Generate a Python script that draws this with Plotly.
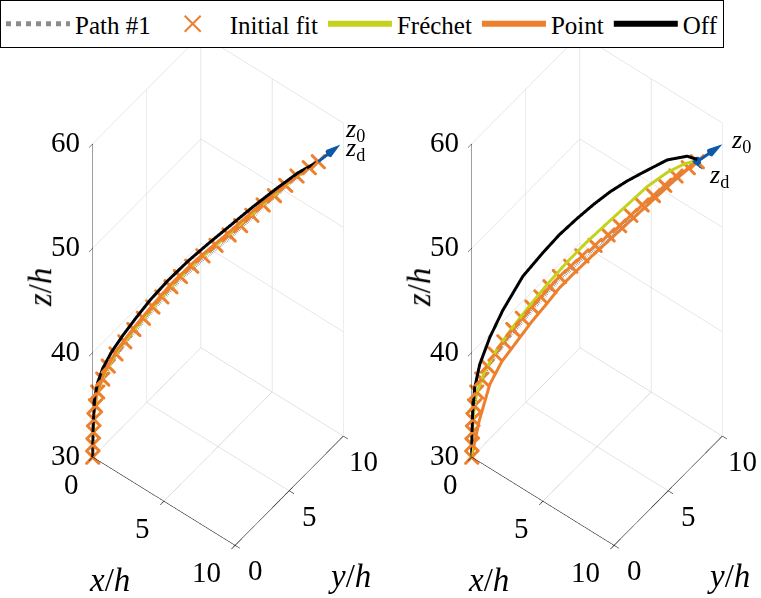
import numpy as np
import plotly.graph_objects as go

# ---------------- data (x = y = s along the diagonal of the box) ----------------
path_s = [0, 0.01, 0.03, 0.05, 0.11, 0.2, 0.4, 0.62, 0.93, 1.28, 1.64, 2.02, 2.4, 2.76,
          3.12, 3.5, 3.95, 4.4, 4.92, 5.44, 5.9, 6.35, 6.8, 7.25, 7.7, 8.15, 8.64, 9.0]
path_z = [30, 31.2, 32.4, 33.6, 34.8, 36.0, 37.2, 38.3, 39.4, 40.5, 41.5, 42.5, 43.5, 44.4,
          45.3, 46.2, 47.1, 48.0, 48.9, 49.8, 50.7, 51.6, 52.5, 53.4, 54.3, 55.1, 55.9, 56.5]

fit_s = [0, 0.01, 0.03, 0.05, 0.11, 0.2, 0.4, 0.62, 0.93, 1.28, 1.64, 2.02, 2.4, 2.76,
         3.12, 3.5, 3.95, 4.4, 4.92, 5.44, 5.9, 6.35, 6.8, 7.25, 7.7, 8.15, 8.64, 9.0]
fit_z = [30, 31.2, 32.4, 33.6, 34.9, 36.2, 37.4, 38.6, 39.7, 40.8, 41.9, 42.9, 43.9, 44.8,
         45.7, 46.6, 47.5, 48.4, 49.3, 50.2, 51.0, 51.9, 52.8, 53.6, 54.5, 55.3, 56.0, 56.5]

# left panel
frechet_l_s = [0, 0.02, 0.06, 0.17, 0.5, 1.0, 1.7, 2.45, 3.25, 4.2, 5.3, 6.35, 7.15, 8.0, 8.65, 9.0]
frechet_l_z = [30, 32, 34, 36, 38, 40, 42, 44, 46, 48, 50, 52, 53.5, 55, 56, 56.5]
point_l_s = [0, 0.02, 0.05, 0.15, 0.46, 0.95, 1.62, 2.36, 3.15, 4.1, 5.2, 6.25, 7.05, 7.93, 8.6, 9.0]
point_l_z = [30, 32, 34, 36, 38, 40, 42, 44, 46, 48, 50, 52, 53.5, 55, 56, 56.5]
off_l_s = [0, 0.02, 0.08, 0.2, 0.4, 0.75, 1.2, 1.7, 2.3, 3.0, 3.8, 4.6, 5.5, 6.4, 7.3, 8.2, 9.0]
off_l_z = [30, 33, 35.7, 37.1, 38.4, 39.9, 41.4, 42.9, 44.6, 46.3, 48.0, 49.5, 51.1, 52.7, 54.2, 55.6, 56.5]

# right panel
frechet_r_s = [0, 0.02, 0.07, 0.2, 0.5, 1.0, 1.6, 2.3, 3.0, 3.8, 4.6, 5.4, 6.2, 7.0, 7.8, 8.5, 9.0]
frechet_r_z = [30, 32, 34, 36.1, 38.0, 40.1, 42.0, 44.0, 45.9, 47.9, 49.7, 51.3, 52.9, 54.5, 55.7, 56.4, 56.6]
point_r_s = [0, 0.04, 0.3, 0.72, 1.2, 1.8, 2.4, 3.0, 3.5, 4.04, 4.8, 5.6, 6.4, 7.2, 8.0, 8.6, 9.0]
point_r_z = [30, 30.5, 33.4, 36.8, 38.9, 40.7, 42.5, 44.1, 45.5, 46.7, 48.3, 49.9, 51.5, 53.1, 54.7, 55.8, 56.5]
off_r_s = [0, 0.01, 0.04, 0.12, 0.32, 0.72, 1.24, 2.04, 2.84, 3.5, 4.2, 4.85, 5.52, 6.2, 6.84, 7.8, 8.6, 9.0]
off_r_z = [30, 32, 34.4, 36.6, 38.8, 41.3, 43.8, 46.9, 49.0, 50.6, 52.0, 53.2, 54.3, 55.2, 55.9, 56.9, 57.1, 56.7]

# end orientation vectors (base point, direction) for each panel
tip_base = [9.0, 9.0, 56.5]
z0_l = [0.88, 0.88, 1.45]
zd_l = [0.88, 0.88, 1.45]
z0_r = [1.0, 1.0, 1.46]
zd_r = [0.2, 0.2, -0.8]

x_ticks = [0, 5, 10]
y_ticks = [0, 5, 10]
z_ticks = [30, 40, 50, 60]

# ---------------- styling ----------------
ORANGE = "#EE7F2D"
YELLOW = "#C4D21E"
GRAY = "#8C8C8C"
BLUE = "#0E58A8"
FONT = "Liberation Serif"

fig = go.Figure()


def add_panel(scene, fr_s, fr_z, pt_s, pt_z, off_s, off_z, z0, zd, legend):
    fig.add_trace(go.Scatter3d(x=path_s, y=path_s, z=path_z, mode="lines", name="Path #1",
                               line=dict(color=GRAY, width=5, dash="dot"), scene=scene,
                               showlegend=legend, legendrank=1))
    fig.add_trace(go.Scatter3d(x=fit_s, y=fit_s, z=fit_z, mode="markers", name="Initial fit",
                               marker=dict(symbol="x", size=3.5, color=ORANGE), scene=scene,
                               showlegend=False))
    fig.add_trace(go.Scatter3d(x=fr_s, y=fr_s, z=fr_z, mode="lines", name="Fréchet",
                               line=dict(color=YELLOW, width=6), scene=scene, showlegend=legend,
                               legendrank=3))
    fig.add_trace(go.Scatter3d(x=pt_s, y=pt_s, z=pt_z, mode="lines", name="Point",
                               line=dict(color=ORANGE, width=6), scene=scene, showlegend=legend,
                               legendrank=4))
    fig.add_trace(go.Scatter3d(x=off_s, y=off_s, z=off_z, mode="lines", name="Off",
                               line=dict(color="black", width=6), scene=scene, showlegend=legend,
                               legendrank=5))
    for vec in (z0, zd):
        b = np.array(tip_base, float)
        v = np.array(vec, float)
        tip = b + v
        shaft_end = b + 0.7 * v
        fig.add_trace(go.Scatter3d(x=[b[0], shaft_end[0]], y=[b[1], shaft_end[1]],
                                   z=[b[2], shaft_end[2]], mode="lines",
                                   line=dict(color=BLUE, width=6), scene=scene,
                                   showlegend=False, hoverinfo="skip"))
        u = v / np.linalg.norm(v) * 0.6
        fig.add_trace(go.Cone(x=[tip[0]], y=[tip[1]], z=[tip[2]], u=[u[0]], v=[u[1]], w=[u[2]],
                              anchor="tip", sizemode="absolute", sizeref=1.0,
                              colorscale=[[0, BLUE], [1, BLUE]], showscale=False,
                              lighting=dict(ambient=1, diffuse=0, specular=0),
                              scene=scene, hoverinfo="skip"))


add_panel("scene", frechet_l_s, frechet_l_z, point_l_s, point_l_z, off_l_s, off_l_z, z0_l, zd_l, True)
add_panel("scene2", frechet_r_s, frechet_r_z, point_r_s, point_r_z, off_r_s, off_r_z, z0_r, zd_r, False)

# legend entry for the initial-fit markers (thin cross as in the original)
fig.add_trace(go.Scatter(x=[None], y=[None], mode="markers", name="Initial fit",
                         marker=dict(symbol="x-thin-open", size=16, color=ORANGE,
                                     line=dict(color=ORANGE, width=2)),
                         legendrank=2, hoverinfo="skip"))


def axis(rng, ticks):
    return dict(title=dict(text=""),
                range=rng, tickvals=ticks, showticklabels=False,
                showgrid=True, gridcolor="#cfcfcf", gridwidth=1,
                showline=True, linecolor="black", linewidth=1,
                ticks="outside", tickcolor="black", ticklen=6,
                showbackground=False, zeroline=False, showspikes=False, autorange=False)


k = 3.0
cam = dict(eye=dict(x=0.377 * k, y=-0.481 * k, z=0.791 * k), up=dict(x=0, y=0, z=1),
           center=dict(x=0, y=0, z=0), projection=dict(type="orthographic"))

ASPECT = dict(x=0.624, y=0.605, z=1.766)
title_font = dict(family=FONT, size=33, color="black")
tick_font = dict(family=FONT, size=29, color="black")
lab_font = dict(family=FONT, size=26, color="black")


def scene_layout(dom_x, z0, zd, z0_shift, zd_shift):
    t0 = np.array(tip_base) + np.array(z0)
    td = np.array(tip_base) + np.array(zd)
    ann = []
    # tick labels, anchored at the tick values of each axis
    for v in x_ticks:
        ann.append(dict(x=v, y=0, z=30, text=str(v), showarrow=False, xanchor="right",
                        xshift=-12, yshift=-27, font=tick_font))
    for v in y_ticks:
        ann.append(dict(x=10, y=v, z=30, text=str(v), showarrow=False, xanchor="center",
                        xshift=20, yshift=-25, font=tick_font))
    for v in z_ticks:
        ann.append(dict(x=0, y=0, z=v, text=str(v), showarrow=False, xanchor="right",
                        xshift=-11, yshift=2, font=tick_font))
    ann += [
        dict(x=5, y=0, z=30, text="<i>x</i>/<i>h</i>", showarrow=False,
             xshift=-54, yshift=-79, font=title_font),
        dict(x=10, y=5, z=30, text="<i>y</i>/<i>h</i>", showarrow=False,
             xshift=60, yshift=-85, font=title_font),
        dict(x=0, y=0, z=45, text="<i>z</i>/<i>h</i>", showarrow=False, textangle=-90,
             xshift=-52, yshift=13, font=title_font),
        dict(x=t0[0], y=t0[1], z=t0[2], text="<i>z</i><sub>0</sub>", showarrow=False,
             xanchor="left", xshift=z0_shift[0], yshift=z0_shift[1], font=lab_font),
        dict(x=td[0], y=td[1], z=td[2], text="<i>z</i><sub>d</sub>", showarrow=False,
             xanchor="left", xshift=zd_shift[0], yshift=zd_shift[1], font=lab_font),
    ]
    return dict(domain=dict(x=dom_x, y=[0.03, 1.0]),
                xaxis=axis([0, 10], x_ticks),
                yaxis=axis([0, 10], y_ticks),
                zaxis=axis([30, 60], z_ticks),
                aspectmode="manual", aspectratio=ASPECT,
                camera=cam, bgcolor="rgba(0,0,0,0)",
                annotations=ann)


sl = scene_layout([0.0, 0.573], z0_l, zd_l, (3, 15), (3, -4))
sr = scene_layout([0.569, 1.0], z0_r, zd_r, (7, 3), (5, -6))

fig.update_layout(
    width=761, height=598, margin=dict(l=0, r=0, t=0, b=0),
    paper_bgcolor="white", plot_bgcolor="rgba(0,0,0,0)",
    font=dict(family=FONT, size=20, color="black"),
    scene=sl, scene2=sr,
    xaxis=dict(visible=False), yaxis=dict(visible=False),
    legend=dict(orientation="h", x=0, y=1, xanchor="left", yanchor="top",
                bordercolor="black", borderwidth=1, bgcolor="white",
                font=dict(family=FONT, size=25, color="black"), itemwidth=64,
                tracegroupgap=0, traceorder="normal"),
)

fig.write_html("out.html")
